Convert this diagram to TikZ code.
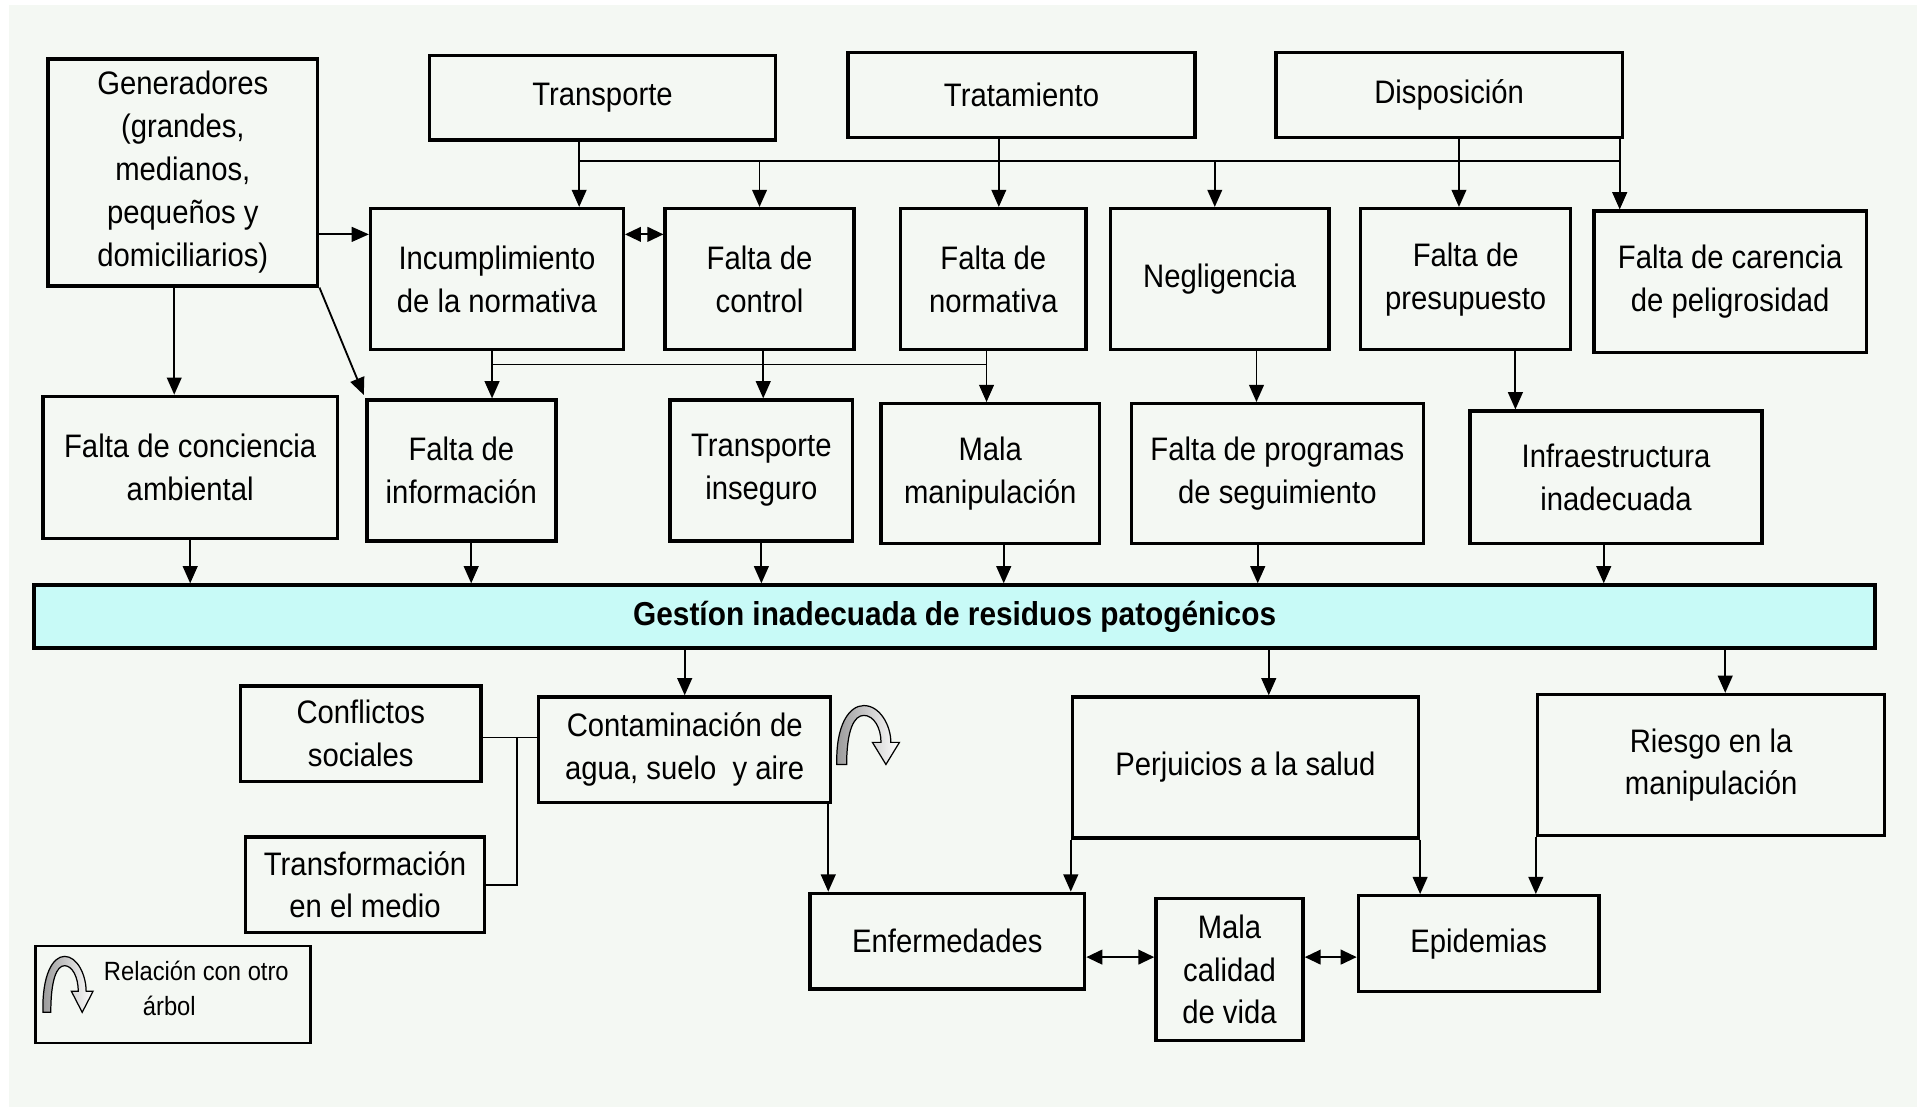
\documentclass[tikz,border=0pt]{standalone}
\usepackage{fontspec}
\setmainfont{Liberation Sans}[FakeStretch=0.9]
\usetikzlibrary{arrows.meta}
\definecolor{bgcol}{RGB}{244,248,243}
\definecolor{gestcol}{RGB}{200,250,247}
\newcommand{\fsn}{\fontsize{26.5}{35}\selectfont}
\newcommand{\fsb}{\fontsize{27}{35}\selectfont\bfseries}
\newcommand{\fsl}{\fontsize{21.5}{29}\selectfont}
% \bx[options]{name}{x1}{y1}{x2}{y2}{text}
\newcommand{\bx}[7][]{\node[box,#1,minimum width={(#5)-(#3)},minimum height={(#6)-(#4)}] (#2) at ({((#3)+(#5))/2},{((#4)+(#6))/2}) {#7};}
\tikzset{
  box/.style={draw, line width=2.7pt, inner sep=0pt, align=center, font=\fsn},
  ln/.style={line width=1.5pt},
  arr/.style={line width=1.5pt, -{Triangle[length=14pt,width=12pt]}},
  darr/.style={line width=1.5pt, {Triangle[length=13pt,width=12pt]}-{Triangle[length=13pt,width=12pt]}},
  relarrow/.pic={
    \path[draw=black, line width=1pt, left color=gray!80, right color=white]
      (0,0) .. controls (-1,-32) and (10,-48) .. (22,-48)
      .. controls (35,-48) and (44,-32) .. (44,-18)
      -- (51,-18) -- (40,0) -- (29,-18) -- (36,-18)
      .. controls (36,-30) and (30,-40) .. (22,-40)
      .. controls (14,-40) and (8,-28) .. (8,0) -- cycle;
  }
}
\begin{document}
\begin{tikzpicture}[x=1pt,y=-1pt]
\useasboundingbox (0,0) rectangle (1568,905);
\fill[white] (0,0) rectangle (1568,905);
\fill[bgcol] (7,4) rectangle (1562,902);

% top row
\bx{gen}{39}{48}{259}{233}{Generadores\\(grandes,\\medianos,\\pequeños y\\domiciliarios)}
\bx{trans}{350}{45}{632}{114}{Transporte}
\bx{trat}{691}{43}{974}{112}{Tratamiento}
\bx{dispo}{1040}{43}{1322}{112}{Disposición}

% second row
\bx{incum}{302}{170}{508}{285}{Incumplimiento\\de la normativa}
\bx{fcontrol}{542}{170}{696}{285}{Falta de\\control}
\bx{fnorm}{734}{170}{885}{285}{Falta de\\normativa}
\bx{neg}{905}{170}{1083}{285}{Negligencia}
\bx{fpres}{1109}{170}{1280}{285}{Falta de\\presupuesto}
\bx{fcar}{1299}{172}{1521}{287}{Falta de carencia\\de peligrosidad}

% third row
\bx{fconc}{35}{323}{275}{439}{Falta de conciencia\\ambiental}
\bx{finfo}{299}{326}{453}{441}{Falta de\\información}
\bx{tinseg}{546}{326}{695}{441}{Transporte\\inseguro}
\bx{malam}{718}{329}{896}{443}{Mala\\manipulación}
\bx{fprog}{922}{329}{1160}{443}{Falta de programas\\de seguimiento}
\bx{infra}{1198}{335}{1436}{443}{Infraestructura\\inadecuada}

% central problem
\bx[line width=3.2pt, fill=gestcol, font=\fsb]{gest}{28}{477}{1528}{528}{Gestíon inadecuada de residuos patogénicos}

% effects
\bx{confl}{196}{559}{392}{637}{Conflictos\\sociales}
\bx{transf}{200}{682}{395}{760}{Transformación\\en el medio}
\bx{contam}{439}{568}{677}{654}{Contaminación de\\agua, suelo\ \ y aire}
\bx{perj}{874}{568}{1156}{683}{Perjuicios a la salud}
\bx{riesgo}{1253}{566}{1536}{681}{Riesgo en la\\manipulación}
\bx{enf}{660}{728}{884}{806}{Enfermedades}
\bx{malac}{942}{732}{1062}{848}{Mala\\calidad\\de vida}
\bx{epi}{1107}{730}{1303}{808}{Epidemias}

% legend
\bx[line width=1.8pt]{legend}{29}{771}{253}{850}{}
\node[font=\fsl, inner sep=0pt] (legt1) at (160,791) {Relación con otro};
\node[font=\fsl, inner sep=0pt] (legt2) at (138,820) {árbol};
\pic[xscale=0.8, yscale=0.95] at (35,825) {relarrow};
\pic at (682,623) {relarrow};

% coordinates for connector positions
\coordinate (cBusL) at (472,131);
\coordinate (cBusR) at (1320,131);
\coordinate (cTrat) at (814,0);
\coordinate (cNeg) at (990,0);
\coordinate (cPres) at (1189,0);
\coordinate (cG) at (0,191);
\coordinate (cGx) at (142,0);
\coordinate (cI) at (401,297);
\coordinate (cM) at (804,297);
\coordinate (cC) at (622,0);
\coordinate (cN) at (1024,0);
\coordinate (cP) at (1235,0);
\coordinate (x384) at (384,0);
\coordinate (x818) at (818,0);
\coordinate (x1025) at (1025,0);
\coordinate (x1307) at (1307,0);
\coordinate (x1034) at (1034,0);
\coordinate (x1406) at (1406,0);
\coordinate (x675) at (675,0);
\coordinate (j1) at (421,601);
\coordinate (cD) at (0,780);

% top connectors
\draw[ln] (cBusL) -- (cBusR);
\draw[arr] (trans.south -| cBusL) -- (incum.north -| cBusL);
\draw[arr] (fcontrol.north |- cBusL) -- (fcontrol.north);
\draw[arr] (trat.south -| cTrat) -- (fnorm.north -| cTrat);
\draw[arr] (cBusL -| cNeg) -- (neg.north -| cNeg);
\draw[arr] (dispo.south -| cPres) -- (fpres.north -| cPres);
\draw[arr] (dispo.south -| cBusR) -- (fcar.north -| cBusR);

\draw[arr] (gen.east |- cG) -- (incum.west |- cG);
\draw[darr] (incum.east |- cG) -- (fcontrol.west |- cG);
\draw[arr] (gen.south -| cGx) -- (fconc.north -| cGx);
\draw[arr, shorten >=3pt] (gen.south east) -- (finfo.north west);

% second to third row
\draw[ln] (cI) -- (cM);
\draw[arr] (incum.south -| cI) -- (finfo.north -| cI);
\draw[arr] (fcontrol.south -| cC) -- (tinseg.north -| cC);
\draw[arr] (fnorm.south -| cM) -- (malam.north -| cM);
\draw[arr] (neg.south -| cN) -- (fprog.north -| cN);
\draw[arr] (fpres.south -| cP) -- (infra.north -| cP);

% third row to central problem
\draw[arr] (fconc.south) -- (fconc.south |- gest.north);
\draw[arr] (finfo.south -| x384) -- (gest.north -| x384);
\draw[arr] (tinseg.south) -- (tinseg.south |- gest.north);
\draw[arr] (malam.south -| x818) -- (gest.north -| x818);
\draw[arr] (fprog.south -| x1025) -- (gest.north -| x1025);
\draw[arr] (infra.south -| x1307) -- (gest.north -| x1307);

% central problem to effects
\draw[arr] (gest.south -| contam.north) -- (contam.north);
\draw[arr] (gest.south -| x1034) -- (perj.north -| x1034);
\draw[arr] (gest.south -| x1406) -- (riesgo.north -| x1406);

% effects connectors
\draw[ln] (confl.east |- j1) -- (contam.west |- j1);
\draw[ln] (j1) |- (transf.east);
\draw[arr] (contam.south -| x675) -- (enf.north -| x675);
\draw[arr] (perj.south west) -- (enf.north -| perj.south west);
\draw[arr] (perj.south east) -- (epi.north -| perj.south east);
\draw[arr] (riesgo.south west) -- (epi.north -| riesgo.south west);
\draw[darr] (enf.east |- cD) -- (malac.west |- cD);
\draw[darr] (malac.east |- cD) -- (epi.west |- cD);
\end{tikzpicture}
\end{document}
